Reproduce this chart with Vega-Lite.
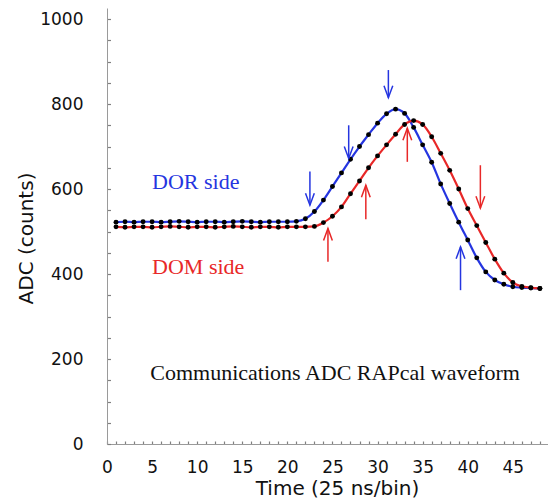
{
  "$schema": "https://vega.github.io/schema/vega-lite/v6.json",
  "width": 441,
  "height": 436,
  "autosize": {"type": "none"},
  "padding": {"left": 107, "top": 8, "right": 0, "bottom": 58},
  "background": "white",
  "config": {
    "view": {"stroke": null},
    "axis": {
      "domainColor": "#9a9a9a",
      "grid": false,
      "labelFont": "DejaVu Sans",
      "labelFontSize": 17,
      "labelColor": "#111",
      "titleFont": "DejaVu Sans",
      "titleFontSize": 20,
      "titleFontWeight": "normal",
      "titleColor": "#111"
    }
  },
  "datasets": {
    "wave": [
      {"t":1,"adc":522,"side":"DOR side"},{"t":2,"adc":523,"side":"DOR side"},{"t":3,"adc":522,"side":"DOR side"},{"t":4,"adc":523,"side":"DOR side"},{"t":5,"adc":523,"side":"DOR side"},{"t":6,"adc":522,"side":"DOR side"},{"t":7,"adc":523,"side":"DOR side"},{"t":8,"adc":524,"side":"DOR side"},{"t":9,"adc":523,"side":"DOR side"},{"t":10,"adc":522,"side":"DOR side"},{"t":11,"adc":523,"side":"DOR side"},{"t":12,"adc":523,"side":"DOR side"},{"t":13,"adc":522,"side":"DOR side"},{"t":14,"adc":523,"side":"DOR side"},{"t":15,"adc":524,"side":"DOR side"},{"t":16,"adc":523,"side":"DOR side"},{"t":17,"adc":522,"side":"DOR side"},{"t":18,"adc":523,"side":"DOR side"},{"t":19,"adc":523,"side":"DOR side"},{"t":20,"adc":523,"side":"DOR side"},{"t":21,"adc":524,"side":"DOR side"},{"t":22,"adc":530,"side":"DOR side"},{"t":23,"adc":547,"side":"DOR side"},{"t":24,"adc":574,"side":"DOR side"},{"t":25,"adc":606,"side":"DOR side"},{"t":26,"adc":638,"side":"DOR side"},{"t":27,"adc":670,"side":"DOR side"},{"t":28,"adc":700,"side":"DOR side"},{"t":29,"adc":728,"side":"DOR side"},{"t":30,"adc":755,"side":"DOR side"},{"t":31,"adc":777,"side":"DOR side"},{"t":32,"adc":788,"side":"DOR side"},{"t":33,"adc":778,"side":"DOR side"},{"t":34,"adc":745,"side":"DOR side"},{"t":35,"adc":704,"side":"DOR side"},{"t":36,"adc":663,"side":"DOR side"},{"t":37,"adc":612,"side":"DOR side"},{"t":38,"adc":566,"side":"DOR side"},{"t":39,"adc":522,"side":"DOR side"},{"t":40,"adc":480,"side":"DOR side"},{"t":41,"adc":438,"side":"DOR side"},{"t":42,"adc":405,"side":"DOR side"},{"t":43,"adc":386,"side":"DOR side"},{"t":44,"adc":376,"side":"DOR side"},{"t":45,"adc":370,"side":"DOR side"},{"t":46,"adc":368,"side":"DOR side"},{"t":47,"adc":367,"side":"DOR side"},{"t":48,"adc":366,"side":"DOR side"},
      {"t":1,"adc":511,"side":"DOM side"},{"t":2,"adc":510,"side":"DOM side"},{"t":3,"adc":511,"side":"DOM side"},{"t":4,"adc":511,"side":"DOM side"},{"t":5,"adc":510,"side":"DOM side"},{"t":6,"adc":511,"side":"DOM side"},{"t":7,"adc":512,"side":"DOM side"},{"t":8,"adc":511,"side":"DOM side"},{"t":9,"adc":510,"side":"DOM side"},{"t":10,"adc":511,"side":"DOM side"},{"t":11,"adc":511,"side":"DOM side"},{"t":12,"adc":510,"side":"DOM side"},{"t":13,"adc":511,"side":"DOM side"},{"t":14,"adc":512,"side":"DOM side"},{"t":15,"adc":511,"side":"DOM side"},{"t":16,"adc":510,"side":"DOM side"},{"t":17,"adc":511,"side":"DOM side"},{"t":18,"adc":511,"side":"DOM side"},{"t":19,"adc":510,"side":"DOM side"},{"t":20,"adc":511,"side":"DOM side"},{"t":21,"adc":511,"side":"DOM side"},{"t":22,"adc":511,"side":"DOM side"},{"t":23,"adc":512,"side":"DOM side"},{"t":24,"adc":521,"side":"DOM side"},{"t":25,"adc":536,"side":"DOM side"},{"t":26,"adc":558,"side":"DOM side"},{"t":27,"adc":589,"side":"DOM side"},{"t":28,"adc":619,"side":"DOM side"},{"t":29,"adc":650,"side":"DOM side"},{"t":30,"adc":678,"side":"DOM side"},{"t":31,"adc":704,"side":"DOM side"},{"t":32,"adc":729,"side":"DOM side"},{"t":33,"adc":752,"side":"DOM side"},{"t":34,"adc":761,"side":"DOM side"},{"t":35,"adc":752,"side":"DOM side"},{"t":36,"adc":723,"side":"DOM side"},{"t":37,"adc":684,"side":"DOM side"},{"t":38,"adc":644,"side":"DOM side"},{"t":39,"adc":600,"side":"DOM side"},{"t":40,"adc":554,"side":"DOM side"},{"t":41,"adc":514,"side":"DOM side"},{"t":42,"adc":474,"side":"DOM side"},{"t":43,"adc":435,"side":"DOM side"},{"t":44,"adc":402,"side":"DOM side"},{"t":45,"adc":380,"side":"DOM side"},{"t":46,"adc":371,"side":"DOM side"},{"t":47,"adc":368,"side":"DOM side"},{"t":48,"adc":366,"side":"DOM side"}
    ],
    "arrows": [
      {"t":22.5,"from":641,"tip":562,"side":"DOR side","dir":"down"},
      {"t":26.8,"from":750,"tip":672,"side":"DOR side","dir":"down"},
      {"t":31.2,"from":880,"tip":815,"side":"DOR side","dir":"down"},
      {"t":39.2,"from":362,"tip":464,"side":"DOR side","dir":"up"},
      {"t":24.5,"from":429,"tip":507,"side":"DOM side","dir":"up"},
      {"t":28.7,"from":529,"tip":609,"side":"DOM side","dir":"up"},
      {"t":33.3,"from":664,"tip":743,"side":"DOM side","dir":"up"},
      {"t":41.4,"from":656,"tip":555,"side":"DOM side","dir":"down"}
    ],
    "labels": [
      {"t":5,"adc":599,"text":"DOR side","side":"DOR side"},
      {"t":5,"adc":401,"text":"DOM side","side":"DOM side"},
      {"t":4.8,"adc":150,"text":"Communications ADC RAPcal waveform","side":"caption"}
    ]
  },
  "encoding": {
    "x": {
      "field": "t", "type": "quantitative",
      "scale": {"domain": [0, 48.9], "nice": false, "zero": false},
      "axis": {
        "title": "Time (25 ns/bin)",
        "values": [0,1,2,3,4,5,6,7,8,9,10,11,12,13,14,15,16,17,18,19,20,21,22,23,24,25,26,27,28,29,30,31,32,33,34,35,36,37,38,39,40,41,42,43,44,45,46,47,48],
        "labelExpr": "datum.value % 5 === 0 ? datum.label : ''",
        "labelOverlap": false,
        "labelFlush": false,
        "ticks": true,
        "tickSize": -3,
        "tickWidth": 1.2,
        "tickColor": "#808080",
        "labelPadding": 18,
        "titlePadding": 3,
        "titleX": 230,
        "encode": {"ticks": {"update": {"y2": {"signal": "datum.value % 5 === 0 ? -6 : -3"}}}}
      }
    },
    "y": {
      "field": "adc", "type": "quantitative",
      "scale": {"domain": [0, 1026], "nice": false},
      "axis": {
        "title": "ADC (counts)",
        "values": [0,50,100,150,200,250,300,350,400,450,500,550,600,650,700,750,800,850,900,950,1000],
        "labelExpr": "datum.value % 200 === 0 ? format(datum.value, 'd') : ''",
        "labelOverlap": false,
        "ticks": true,
        "tickSize": -3.5,
        "tickWidth": 1.2,
        "tickColor": "#808080",
        "labelPadding": 27.5,
        "titlePadding": 3,
        "titleY": 230,
        "encode": {"ticks": {"update": {"x2": {"signal": "datum.value % 200 === 0 ? 9 : 3.5"}}}}
      }
    }
  },
  "layer": [
    {
      "data": {"name": "wave"},
      "mark": {"type": "line", "interpolate": "monotone", "strokeWidth": 2.2},
      "encoding": {
        "color": {"field": "side", "type": "nominal", "scale": {"domain": ["DOR side", "DOM side", "caption"], "range": ["#2535e0", "#e82828", "#111111"]}, "legend": null},
        "detail": {"field": "side"}
      }
    },
    {
      "data": {"name": "wave"},
      "mark": {"type": "point", "filled": true, "color": "#000", "size": 24, "opacity": 1}
    },
    {
      "data": {"name": "arrows"},
      "mark": {"type": "rule", "strokeWidth": 1.5},
      "encoding": {
        "y": {"field": "from", "type": "quantitative"},
        "y2": {"field": "tip"},
        "color": {"field": "side", "type": "nominal", "legend": null}
      }
    },
    {
      "data": {"name": "arrows"},
      "mark": {"type": "point", "filled": false, "strokeWidth": 1.5, "size": 64, "opacity": 1},
      "encoding": {
        "y": {"field": "tip", "type": "quantitative"},
        "shape": {"field": "dir", "type": "nominal", "scale": {"domain": ["down", "up"], "range": ["M-1.1,-3L0,0L1.1,-3", "M-1.1,3L0,0L1.1,3"]}, "legend": null},
        "color": {"field": "side", "type": "nominal", "legend": null}
      }
    },
    {
      "data": {"name": "labels"},
      "mark": {"type": "text", "font": "Liberation Serif", "fontSize": 22, "align": "left", "baseline": "alphabetic"},
      "encoding": {
        "text": {"field": "text"},
        "color": {"field": "side", "type": "nominal", "legend": null}
      }
    },
    {
      "mark": {"type": "rule", "color": "#d6d6d6", "strokeWidth": 1.5},
      "encoding": {"y": {"datum": 1026}, "x": null}
    }
  ]
}
